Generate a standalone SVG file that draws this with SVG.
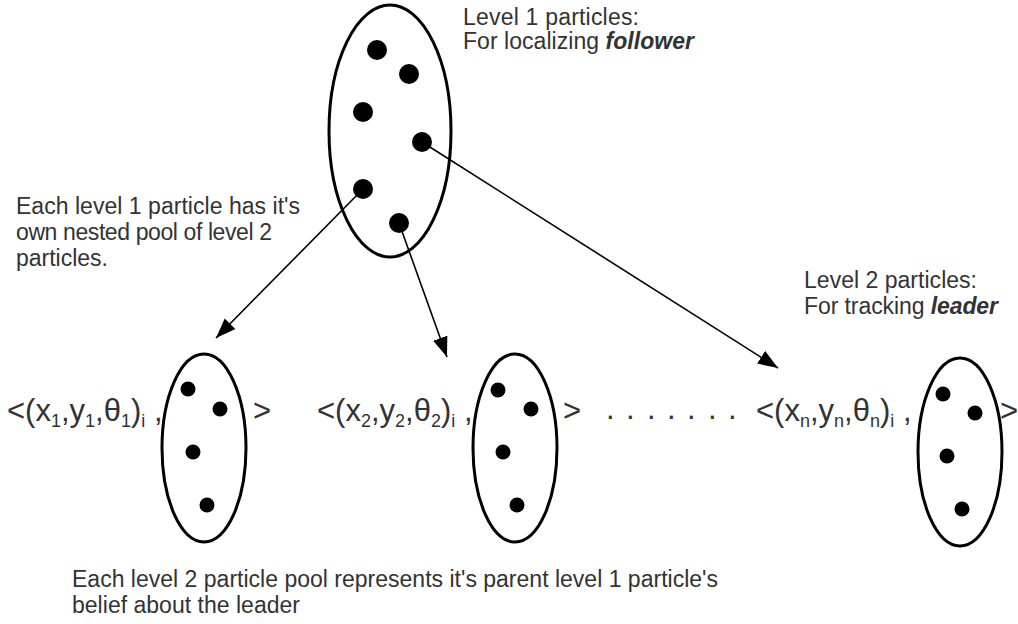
<svg xmlns="http://www.w3.org/2000/svg" width="1018" height="624" viewBox="0 0 1018 624">
<style>
.t{font-family:"Liberation Sans",Arial,sans-serif;font-size:23px;fill:#333}
.bi{font-weight:bold;font-style:italic}
.f{font-family:"Liberation Sans",Arial,sans-serif;font-size:31px;fill:#333}
.sub{font-size:18px}
.pool{fill:none;stroke:#000;stroke-width:3}
.dot{fill:#000}
.conn{stroke:#000;stroke-width:1.6;fill:none;marker-end:url(#ah)}
</style>
<defs>
<marker id="ah" markerUnits="userSpaceOnUse" markerWidth="22" markerHeight="16" refX="20" refY="7.5" orient="auto">
<path d="M0,0 L20,7.5 L0,15 z" fill="#000"/>
</marker>
</defs>
<rect width="1018" height="624" fill="#fff"/>

<g id="connectors">
<line class="conn" x1="363" y1="189" x2="216" y2="338"/>
<line class="conn" x1="399" y1="223" x2="447" y2="357"/>
<line class="conn" x1="422" y1="142" x2="778" y2="368"/>
</g>

<g id="level1-pool">
<ellipse class="pool" cx="390" cy="131" rx="61" ry="126"/>
<circle class="dot" cx="377" cy="50" r="10"/>
<circle class="dot" cx="409" cy="74" r="10"/>
<circle class="dot" cx="363" cy="112" r="10"/>
<circle class="dot" cx="422" cy="142" r="10"/>
<circle class="dot" cx="363" cy="189" r="10"/>
<circle class="dot" cx="399" cy="223" r="10"/>
</g>

<g id="level1-label">
<text class="t" x="463" y="25" textLength="176">Level 1 particles:</text>
<text class="t" x="463" y="49" textLength="231">For localizing <tspan class="bi">follower</tspan></text>
</g>

<g id="nested-note">
<text class="t" x="16" y="214" textLength="284">Each level 1 particle has it's</text>
<text class="t" x="16" y="240" textLength="256">own nested pool of level 2</text>
<text class="t" x="16" y="266" textLength="92">particles.</text>
</g>

<g id="level2-label">
<text class="t" x="804" y="288" textLength="173">Level 2 particles:</text>
<text class="t" x="804" y="314" textLength="194">For tracking <tspan class="bi">leader</tspan></text>
</g>

<g id="pool-1">
<text class="f" x="7" y="421">&lt;(x<tspan class="sub" dy="6">1</tspan><tspan dy="-6">,y</tspan><tspan class="sub" dy="6">1</tspan><tspan dy="-6">,θ</tspan><tspan class="sub" dy="6">1</tspan><tspan dy="-6">)</tspan><tspan class="sub" dy="6">i</tspan><tspan dy="-6"> ,</tspan></text>
<ellipse class="pool" cx="204" cy="448" rx="42" ry="94"/>
<circle class="dot" cx="188" cy="389" r="7.5"/>
<circle class="dot" cx="220" cy="409" r="7.5"/>
<circle class="dot" cx="193" cy="452" r="7.5"/>
<circle class="dot" cx="207" cy="505" r="7.5"/>
<text class="f" x="253" y="421">&gt;</text>
</g>

<g id="pool-2">
<text class="f" x="317" y="421">&lt;(x<tspan class="sub" dy="6">2</tspan><tspan dy="-6">,y</tspan><tspan class="sub" dy="6">2</tspan><tspan dy="-6">,θ</tspan><tspan class="sub" dy="6">2</tspan><tspan dy="-6">)</tspan><tspan class="sub" dy="6">i</tspan><tspan dy="-6"> ,</tspan></text>
<ellipse class="pool" cx="515" cy="448" rx="42" ry="94"/>
<circle class="dot" cx="498" cy="390" r="7.5"/>
<circle class="dot" cx="531" cy="409" r="7.5"/>
<circle class="dot" cx="503" cy="452" r="7.5"/>
<circle class="dot" cx="517" cy="505" r="7.5"/>
<text class="f" x="563" y="421">&gt;</text>
</g>

<g id="ellipsis">
<text class="f" x="606 626 647 667 687 708 728" y="419">.......</text>
</g>

<g id="pool-n">
<text class="f" x="756" y="421">&lt;(x<tspan class="sub" dy="6">n</tspan><tspan dy="-6">,y</tspan><tspan class="sub" dy="6">n</tspan><tspan dy="-6">,θ</tspan><tspan class="sub" dy="6">n</tspan><tspan dy="-6">)</tspan><tspan class="sub" dy="6">i</tspan><tspan dy="-6"> ,</tspan></text>
<ellipse class="pool" cx="960" cy="452" rx="42" ry="94"/>
<circle class="dot" cx="943" cy="394" r="7.5"/>
<circle class="dot" cx="975" cy="413" r="7.5"/>
<circle class="dot" cx="947" cy="456" r="7.5"/>
<circle class="dot" cx="962" cy="509" r="7.5"/>
<text class="f" x="1000" y="421">&gt;</text>
</g>

<g id="bottom-note">
<text class="t" x="72" y="587" textLength="646">Each level 2 particle pool represents it's parent level 1 particle's</text>
<text class="t" x="72" y="613" textLength="228">belief about the leader</text>
</g>
</svg>
